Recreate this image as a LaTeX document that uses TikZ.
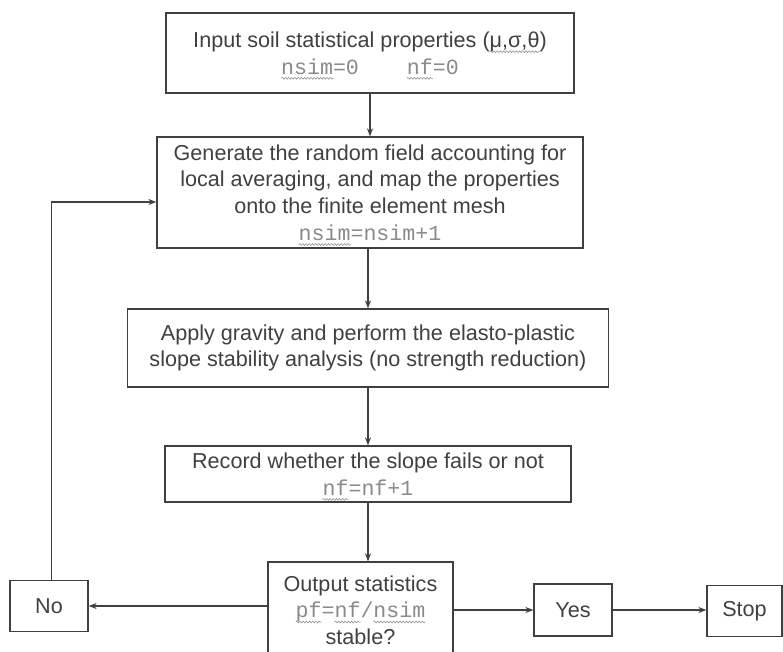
\documentclass[tikz,border=0pt]{standalone}
\usepackage{fontspec}
\setmainfont{Liberation Sans}
\setmonofont{Liberation Mono}
\usetikzlibrary{arrows.meta,calc,decorations.pathmorphing}
\definecolor{ink}{HTML}{404040}
\definecolor{monoc}{HTML}{8A8A8A}
\newlength\sqw
\newcommand\mt[1]{{\ttfamily\color{monoc}#1}}
\newcommand\sq[1]{\settowidth\sqw{#1}#1\tikz[overlay,baseline=0pt]\draw[draw=monoc,line width=0.4pt,decorate,decoration={snake,amplitude=0.7pt,segment length=2.4pt}] (-\sqw,-3.2pt) -- (0pt,-3.2pt);}
\begin{document}
\begin{tikzpicture}[x=0.75pt,y=-0.75pt,
  box/.style={draw=ink,line width=0.95pt,rectangle,inner sep=0pt,align=center,
    text=ink,font=\fontsize{16.2}{20}\selectfont},
  arr/.style={draw=ink,line width=0.95pt,-{Stealth[length=6pt,width=4.5pt]}}]
\useasboundingbox (0,0) rectangle (783,652);
\node[box,minimum width=306pt,minimum height=60pt] (box1) at (370,53)
  {Input soil statistical properties (\sq{μ,σ,θ})\\
   \mt{\sq{nsim}=0}\hspace{36pt}\mt{\sq{nf}=0}};
\node[box,minimum width=319.5pt,minimum height=83.25pt] (box2) at (370,192.5)
  {Generate the random field accounting for\\
   local averaging, and map the properties\\
   onto the finite element mesh\\
   \mt{\sq{nsim}=nsim+1}};
\node[box,minimum width=360.75pt,minimum height=58.5pt] (box3) at (368,348)
  {Apply gravity and perform the elasto-plastic\\
   slope stability analysis (no strength reduction)};
\node[box,minimum width=304.5pt,minimum height=42pt] (box4) at (368,474)
  {Record whether the slope fails or not\\
   \mt{\sq{nf}=nf+1}};
\node[box,minimum width=138.75pt,minimum height=72pt] (box5) at (360.5,610)
  {Output statistics\\
   \mt{\sq{pf}=\sq{nf}/\sq{nsim}}\\
   stable?};
\node[box,minimum width=58.5pt,minimum height=38.25pt] (no) at (49,606) {No};
\node[box,minimum width=58.5pt,minimum height=39pt] (yes) at (573,610) {Yes};
\node[box,minimum width=56.25pt,minimum height=38.25pt] (stop) at (744.5,611) {Stop};
\draw[arr] (box1.south) -- (box1.south |- box2.north);
\draw[arr] (box2.south -| box3.north) -- (box3.north);
\draw[arr] (box3.south -| box4.north) -- (box4.north);
\draw[arr] (box4.south) -- (box4.south |- box5.north);
\draw[arr] (box5.west |- no.east) -- (no.east);
\draw[arr] (box5.east |- yes.west) -- (yes.west);
\draw[arr] (yes.east) -- (yes.east -| stop.west);
\draw[arr] ([xshift=2pt]no.north) |- ($(box2.west)+(0,9.5)$);
\end{tikzpicture}
\end{document}
